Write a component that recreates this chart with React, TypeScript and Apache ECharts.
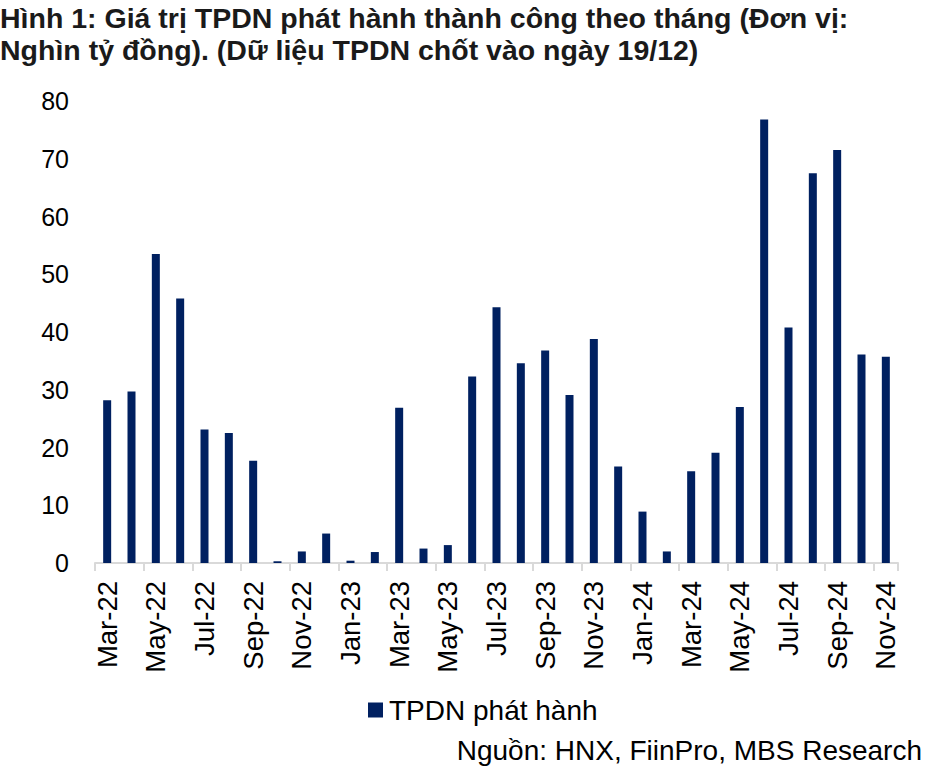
import React, { useEffect, useRef } from "react";
import * as echarts from "echarts";

const categories = [
  "Mar-22","Apr-22","May-22","Jun-22","Jul-22","Aug-22","Sep-22","Oct-22","Nov-22","Dec-22",
  "Jan-23","Feb-23","Mar-23","Apr-23","May-23","Jun-23","Jul-23","Aug-23","Sep-23","Oct-23","Nov-23","Dec-23",
  "Jan-24","Feb-24","Mar-24","Apr-24","May-24","Jun-24","Jul-24","Aug-24","Sep-24","Oct-24","Nov-24"
];
const issued = [
  28.2, 29.7, 53.5, 45.8, 23.1, 22.5, 17.7, 0.3, 2.0, 5.1,
  0.4, 1.9, 26.9, 2.5, 3.1, 32.3, 44.3, 34.6, 36.8, 29.1, 38.8, 16.7,
  8.9, 2.0, 15.9, 19.1, 27.0, 76.8, 40.8, 67.5, 71.5, 36.1, 35.7
];
const seriesName = "TPDN phát hành";
const titleText = "Hình 1: Giá trị TPDN phát hành thành công theo tháng (Đơn vị:\nNghìn tỷ đồng). (Dữ liệu TPDN chốt vào ngày 19/12)";
const sourceText = "Nguồn: HNX, FiinPro, MBS Research";

export default function App() {
  const ref = useRef<HTMLDivElement>(null);
  useEffect(() => {
    if (!ref.current) return;
    const chart = echarts.init(ref.current, undefined, { renderer: "svg" });
    const font = "Liberation Sans, Arial, sans-serif";
    chart.setOption({
      animation: false,
      backgroundColor: "#ffffff",
      textStyle: { fontFamily: font },
      title: {
        text: titleText,
        left: 0,
        top: 0,
        padding: [2, 0, 0, 0],
        textStyle: { fontFamily: font, fontSize: 28.5, fontWeight: "bold", color: "#1a1a1a", lineHeight: 32 },
      },
      legend: {
        data: [seriesName],
        left: 368,
        top: 696,
        padding: 0,
        icon: "rect",
        itemWidth: 15,
        itemHeight: 15,
        itemGap: 6,
        textStyle: { fontFamily: font, fontSize: 28, color: "#000000", padding: [0, 0, 0, 1] },
      },
      graphic: [
        {
          type: "text",
          right: 15,
          top: 736,
          style: { text: sourceText, font: `28px ${font}`, fill: "#000000" },
        },
      ],
      grid: { left: 95, right: 39, top: 101, bottom: 218, containLabel: false },
      xAxis: {
        type: "category",
        data: categories,
        boundaryGap: true,
        axisLine: { show: true, lineStyle: { color: "#d9d9d9", width: 2 } },
        axisTick: { show: true, interval: 1, length: 8, lineStyle: { color: "#d9d9d9", width: 2 } },
        axisLabel: { interval: 1, rotate: 90, fontSize: 27.5, color: "#000000", margin: 18, fontFamily: font },
      },
      yAxis: {
        type: "value",
        min: 0,
        max: 80,
        interval: 10,
        axisLine: { show: false },
        axisTick: { show: false },
        splitLine: { show: false },
        axisLabel: { fontSize: 25, color: "#000000", margin: 26, fontFamily: font },
      },
      series: [
        {
          name: seriesName,
          type: "bar",
          data: issued,
          barWidth: 8,
          itemStyle: { color: "#002060" },
        },
      ],
    });
    return () => chart.dispose();
  }, []);
  return <div ref={ref} style={{ width: 937, height: 781, position: "absolute", left: 0, top: 0 }} />;
}
